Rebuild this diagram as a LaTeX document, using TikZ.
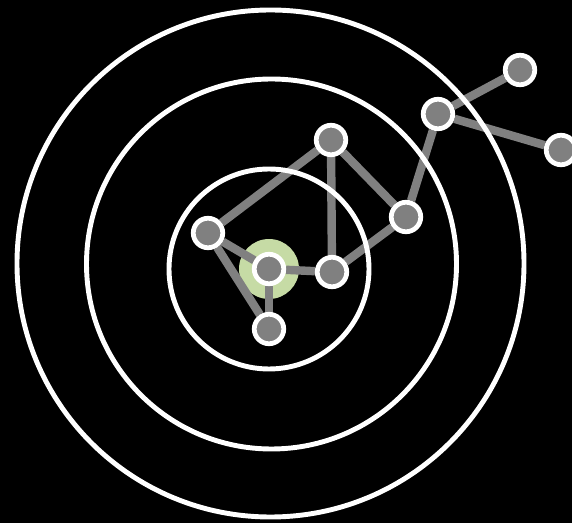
\documentclass[tikz,border=0pt]{standalone}
\usepackage{tikz}
\usetikzlibrary{backgrounds}
\definecolor{edgegray}{HTML}{808080}
\definecolor{halogreen}{HTML}{C6DBA5}

\begin{document}
\begin{tikzpicture}[x=0.02cm, y=-0.02cm,
      ring/.style={draw=white, line width=2.8pt},
      vertex/.style={circle, draw=white, fill=edgegray, line width=2.7pt, minimum size=0.59cm, inner sep=0pt},
      halo/.style={circle, fill=halogreen, minimum size=1.2cm, inner sep=0pt},
      link/.style={draw=edgegray, line width=4.8pt}
    ]
      \useasboundingbox (0,0) rectangle (572,523);

      % vertices
      \node[vertex] (core) at (269,269) {};
      \node[vertex] (left) at (208,233) {};
      \node[vertex] (low) at (269,329) {};
      \node[vertex] (right) at (332,272) {};
      \node[vertex] (top) at (331,140) {};
      \node[vertex] (mid) at (406,217) {};
      \node[vertex] (hub) at (438,114) {};
      \node[vertex] (far) at (520,70) {};
      \node[vertex] (edge) at (561,150) {};

      \begin{scope}[on background layer]
        \fill[black] (0,0) rectangle (572,523);
        \node[halo] (glow) at (core) {};

        \draw[link] (left) -- (top);
        \draw[link] (left) -- (core);
        \draw[link] (left) -- (low);
        \draw[link] (core) -- (low);
        \draw[link] (core) -- (right);
        \draw[link] (right) -- (top);
        \draw[link] (top) -- (mid);
        \draw[link] (right) -- (mid);
        \draw[link] (mid) -- (hub);
        \draw[link] (hub) -- (far);
        \draw[link] (hub) -- (edge);

        % rings
        \draw[ring] (269,269) circle[radius=100];
        \draw[ring] (271.5,264) circle[radius=185];
        \draw[ring] (270.5,263.5) circle[radius=253.5];
      \end{scope}
    \end{tikzpicture}
\end{document}
